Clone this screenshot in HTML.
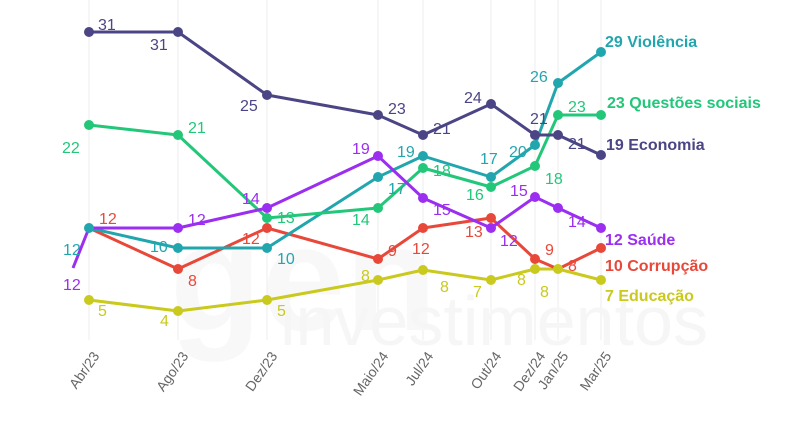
<!DOCTYPE html><html><head><style>body{margin:0;background:#fff}svg{display:block}text{font-family:"Liberation Sans",sans-serif}</style></head><body>
<svg width="800" height="445" viewBox="0 0 800 445">
<g stroke="#ececec" stroke-width="1">
<line x1="89" y1="0" x2="89" y2="340"/><line x1="178" y1="0" x2="178" y2="340"/><line x1="267" y1="0" x2="267" y2="340"/><line x1="378" y1="0" x2="378" y2="340"/><line x1="423" y1="0" x2="423" y2="340"/><line x1="491" y1="0" x2="491" y2="340"/><line x1="535" y1="0" x2="535" y2="340"/><line x1="558" y1="0" x2="558" y2="340"/><line x1="601" y1="0" x2="601" y2="340"/>
</g>
<text x="170" y="330" font-size="150" fill="#f8f8f8" font-weight="bold">gen</text>
<text x="280" y="345" font-size="70" fill="#f6f6f6">investimentos</text>
<g fill="none" stroke-width="3" stroke-linejoin="round">
<polyline stroke="#c9c91e" points="89,300 178,311 267,300 378,280 423,270 491,280 535,269 558,269 601,280"/>
<polyline stroke="#e8483a" points="89,228 178,269 267,228 378,259 423,228 491,218 535,259 558,269 601,248"/>
<polyline stroke="#22a6ae" points="89,228 178,248 267,248 378,177 423,156 491,177 535,145 558,83 601,52"/>
<polyline stroke="#22c77a" points="89,125 178,135 267,218 378,208 423,168 491,187 535,166 558,115 601,115"/>
<polyline stroke="#9b2ef0" points="73,268 89,228 178,228 267,208 378,156 423,198 491,228 535,197 558,208 601,228"/>
<polyline stroke="#4b4585" points="89,32 178,32 267,95 378,115 423,135 491,104 535,135 558,135 601,155"/>
</g>
<g fill="#c9c91e"><circle cx="89" cy="300" r="5"/><circle cx="178" cy="311" r="5"/><circle cx="267" cy="300" r="5"/><circle cx="378" cy="280" r="5"/><circle cx="423" cy="270" r="5"/><circle cx="491" cy="280" r="5"/><circle cx="535" cy="269" r="5"/><circle cx="558" cy="269" r="5"/><circle cx="601" cy="280" r="5"/></g>
<g fill="#e8483a"><circle cx="178" cy="269" r="5"/><circle cx="267" cy="228" r="5"/><circle cx="378" cy="259" r="5"/><circle cx="423" cy="228" r="5"/><circle cx="491" cy="218" r="5"/><circle cx="535" cy="259" r="5"/><circle cx="601" cy="248" r="5"/></g>
<g fill="#22a6ae"><circle cx="178" cy="248" r="5"/><circle cx="267" cy="248" r="5"/><circle cx="378" cy="177" r="5"/><circle cx="423" cy="156" r="5"/><circle cx="491" cy="177" r="5"/><circle cx="535" cy="145" r="5"/><circle cx="558" cy="83" r="5"/><circle cx="601" cy="52" r="5"/><circle cx="89" cy="228" r="5"/></g>
<g fill="#22c77a"><circle cx="89" cy="125" r="5"/><circle cx="178" cy="135" r="5"/><circle cx="267" cy="218" r="5"/><circle cx="378" cy="208" r="5"/><circle cx="423" cy="168" r="5"/><circle cx="491" cy="187" r="5"/><circle cx="535" cy="166" r="5"/><circle cx="558" cy="115" r="5"/><circle cx="601" cy="115" r="5"/></g>
<g fill="#9b2ef0"><circle cx="178" cy="228" r="5"/><circle cx="267" cy="208" r="5"/><circle cx="378" cy="156" r="5"/><circle cx="423" cy="198" r="5"/><circle cx="491" cy="228" r="5"/><circle cx="535" cy="197" r="5"/><circle cx="558" cy="208" r="5"/><circle cx="601" cy="228" r="5"/></g>
<g fill="#4b4585"><circle cx="89" cy="32" r="5"/><circle cx="178" cy="32" r="5"/><circle cx="267" cy="95" r="5"/><circle cx="378" cy="115" r="5"/><circle cx="423" cy="135" r="5"/><circle cx="491" cy="104" r="5"/><circle cx="535" cy="135" r="5"/><circle cx="558" cy="135" r="5"/><circle cx="601" cy="155" r="5"/></g>
<g font-size="16">
<g fill="#4b4585"><text x="98" y="30">31</text><text x="150" y="50">31</text><text x="240" y="111">25</text><text x="388" y="114">23</text><text x="433" y="134">21</text><text x="464" y="103">24</text><text x="530" y="124">21</text><text x="568" y="149">21</text></g>
<g fill="#22c77a"><text x="62" y="153">22</text><text x="188" y="133">21</text><text x="277" y="223">13</text><text x="352" y="225">14</text><text x="433" y="176">18</text><text x="466" y="200">16</text><text x="545" y="184">18</text><text x="568" y="112">23</text></g>
<g fill="#22a6ae"><text x="63" y="255">12</text><text x="150" y="252">10</text><text x="277" y="264">10</text><text x="388" y="194">17</text><text x="397" y="157">19</text><text x="480" y="164">17</text><text x="509" y="157">20</text><text x="530" y="82">26</text></g>
<g fill="#9b2ef0"><text x="63" y="290">12</text><text x="188" y="225">12</text><text x="242" y="204">14</text><text x="352" y="154">19</text><text x="433" y="215">15</text><text x="500" y="246">12</text><text x="510" y="196">15</text><text x="568" y="227">14</text></g>
<g fill="#e8483a"><text x="99" y="224">12</text><text x="188" y="286">8</text><text x="242" y="244">12</text><text x="388" y="256">9</text><text x="412" y="254">12</text><text x="465" y="237">13</text><text x="545" y="255">9</text><text x="568" y="271">8</text></g>
<g fill="#c9c91e"><text x="98" y="316">5</text><text x="160" y="326">4</text><text x="277" y="316">5</text><text x="361" y="281">8</text><text x="440" y="292">8</text><text x="473" y="297">7</text><text x="517" y="285">8</text><text x="540" y="297">8</text></g>
</g>
<g font-size="16" font-weight="bold">
<text x="605" y="47" fill="#22a6ae">29 Violência</text>
<text x="607" y="108" fill="#22c77a">23 Questões sociais</text>
<text x="606" y="150" fill="#4b4585">19 Economia</text>
<text x="605" y="245" fill="#9b2ef0">12 Saúde</text>
<text x="605" y="271" fill="#e8483a">10 Corrupção</text>
<text x="605" y="301" fill="#c9c91e">7 Educação</text>
</g>
<g font-size="14" fill="#666" text-anchor="end">
<text transform="translate(100,356) rotate(-55)">Abr/23</text>
<text transform="translate(189,356) rotate(-55)">Ago/23</text>
<text transform="translate(278,356) rotate(-55)">Dez/23</text>
<text transform="translate(389,356) rotate(-55)">Maio/24</text>
<text transform="translate(434,356) rotate(-55)">Jul/24</text>
<text transform="translate(502,356) rotate(-55)">Out/24</text>
<text transform="translate(546,356) rotate(-55)">Dez/24</text>
<text transform="translate(569,356) rotate(-55)">Jan/25</text>
<text transform="translate(612,356) rotate(-55)">Mar/25</text>
</g>
</svg></body></html>
